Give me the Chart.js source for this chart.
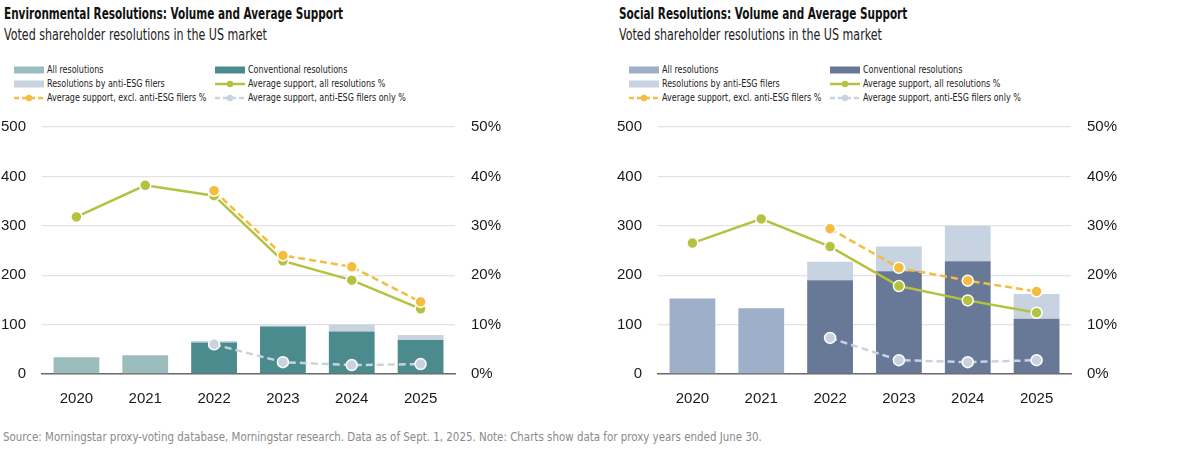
<!DOCTYPE html>
<html>
<head>
<meta charset="utf-8">
<script src="https://cdn.jsdelivr.net/npm/chart.js@4/dist/chart.umd.min.js"></script>
<style>
  html, body { margin: 0; padding: 0; background: #ffffff; }
  body { width: 1201px; height: 449px; position: relative; overflow: hidden;
         font-family: "DejaVu Sans Condensed", "DejaVu Sans", sans-serif; color: #1a1a1a; }
  .sx { display: inline-block; transform-origin: 0 50%; white-space: nowrap; }
  .title { position: absolute; top: 4px; font-weight: bold; font-size: 15px; line-height: 20px; white-space: nowrap; color: #111; }
  .title .sx { transform: scaleX(0.776); }
  .subtitle { position: absolute; top: 25px; font-size: 15.5px; line-height: 20px; white-space: nowrap; color: #222; }
  .subtitle .sx { transform: scaleX(0.797); }
  .leg { position: absolute; font-size: 11px; line-height: 14px; white-space: nowrap; color: #222; display: flex; align-items: center; }
  .leg svg { margin-right: 3px; flex: none; }
  .leg .sx { transform: scaleX(0.81); }
  canvas { position: absolute; }
  .source { position: absolute; left: 3px; top: 429px; font-size: 12px; line-height: 16px; color: #8a8a8a; white-space: nowrap; }
  .source .sx { transform: scaleX(0.953); }
</style>
</head>
<body>
<div class="title" style="left:4px"><span class="sx">Environmental Resolutions: Volume and Average Support</span></div>
<div class="subtitle" style="left:4px"><span class="sx">Voted shareholder resolutions in the US market</span></div>
<div id="legL"></div>
<div style="position:absolute;left:0;top:110px;width:520px;height:310px"><canvas id="envChart"></canvas></div>

<div class="title" style="left:619px"><span class="sx">Social Resolutions: Volume and Average Support</span></div>
<div class="subtitle" style="left:619px"><span class="sx">Voted shareholder resolutions in the US market</span></div>
<div id="legR"></div>
<div style="position:absolute;left:616px;top:110px;width:520px;height:310px"><canvas id="socChart"></canvas></div>

<div class="source"><span class="sx">Source: Morningstar proxy-voting database, Morningstar research. Data as of Sept. 1, 2025. Note: Charts show data for proxy years ended June 30.</span></div>

<script>
// ---- Data ----
const years = ['2020', '2021', '2022', '2023', '2024', '2025'];

const envAll          = [34, 38, null, null, null, null];
const envConventional = [null, null, 64, 96, 86, 69];
const envAntiESG      = [null, null, 3, 2, 14, 10];
const envSupportAll   = [31.8, 38.2, 36.1, 22.9, 19.0, 13.2];
const envSupportExcl  = [null, null, 37.1, 24.0, 21.7, 14.6];
const envSupportAnti  = [null, null, 6.0, 2.4, 1.8, 2.0];

const socAll          = [153, 133, null, null, null, null];
const socConventional = [null, null, 190, 208, 228, 112];
const socAntiESG      = [null, null, 37, 50, 72, 50];
const socSupportAll   = [26.5, 31.4, 25.8, 17.8, 14.9, 12.4];
const socSupportExcl  = [null, null, 29.4, 21.5, 18.9, 16.7];
const socSupportAnti  = [null, null, 7.3, 2.8, 2.4, 2.8];

const countTicks = [0, 100, 200, 300, 400, 500];
const pctTicks = [0, 10, 20, 30, 40, 50];

const legendLabels = [
  'All resolutions', 'Conventional resolutions',
  'Resolutions by anti-ESG filers', 'Average support, all resolutions %',
  'Average support, excl. anti-ESG filers %', 'Average support, anti-ESG filers only %'
];

// ---- Styles ----
const GREEN = '#b5c23f';
const YELLOW = '#f4bd40';
const PALE = '#c9d3e0';
const FONT = '"Liberation Sans", "DejaVu Sans Condensed", sans-serif';

const palettes = {
  env: { all: '#9bbdbd', conv: '#4b8b8e', anti: '#c8d3e0' },
  soc: { all: '#9eb0c9', conv: '#687897', anti: '#c8d3e2' }
};

function swatch(kind, color) {
  if (kind === 'bar') {
    return `<svg width="30" height="10"><rect x="0" y="1.5" width="30" height="7" fill="${color}"/></svg>`;
  }
  const dash = kind === 'dash' ? 'stroke-dasharray="5 3"' : '';
  return `<svg width="30" height="10"><line x1="0" y1="5" x2="30" y2="5" stroke="${color}" stroke-width="2.5" ${dash}/><circle cx="15" cy="5" r="3.2" fill="${color}"/></svg>`;
}

function buildLegend(id, x0, pal) {
  const items = [
    ['bar', pal.all], ['bar', pal.conv],
    ['bar', pal.anti], ['line', GREEN],
    ['dash', YELLOW], ['dash', PALE]
  ];
  const rowsY = [62.5, 76.5, 91];
  let html = '';
  items.forEach((it, i) => {
    const col = i % 2, row = Math.floor(i / 2);
    const left = x0 + col * 201;
    html += `<div class="leg" style="left:${left}px;top:${rowsY[row]}px">${swatch(it[0], it[1])}<span class="sx">${legendLabels[i]}</span></div>`;
  });
  document.getElementById(id).innerHTML = html;
}
buildLegend('legL', 14, palettes.env);
buildLegend('legR', 629, palettes.soc);

function noPad(s) { s.paddingTop = 0; s.paddingBottom = 0; s.paddingLeft = 0; s.paddingRight = 0; }

function makeChart(canvasId, pal, all, conv, anti, supAll, supExcl, supAnti) {
  const pt = (c) => ({
    pointRadius: 5.5, pointBackgroundColor: c, pointBorderColor: '#ffffff',
    pointBorderWidth: 1.5, pointHoverRadius: 5.5
  });
  return new Chart(document.getElementById(canvasId), {
    data: {
      labels: years,
      datasets: [
        { type: 'line', label: legendLabels[4], data: supExcl, yAxisID: 'y1', borderColor: YELLOW,
          borderWidth: 2.5, borderDash: [7, 4], order: 1, ...pt(YELLOW) },
        { type: 'line', label: legendLabels[3], data: supAll, yAxisID: 'y1', borderColor: GREEN,
          borderWidth: 2.5, order: 2, ...pt(GREEN) },
        { type: 'line', label: legendLabels[5], data: supAnti, yAxisID: 'y1', borderColor: PALE,
          borderWidth: 2.5, borderDash: [7, 4], order: 3, ...pt(PALE) },
        { type: 'bar', label: legendLabels[0], data: all, yAxisID: 'y', backgroundColor: pal.all, order: 10, stack: 's' },
        { type: 'bar', label: legendLabels[1], data: conv, yAxisID: 'y', backgroundColor: pal.conv, order: 10, stack: 's' },
        { type: 'bar', label: legendLabels[2], data: anti, yAxisID: 'y', backgroundColor: pal.anti, order: 10, stack: 's' }
      ]
    },
    options: {
      responsive: true,
      maintainAspectRatio: false,
      animation: false,
      events: [],
      datasets: { bar: { categoryPercentage: 1, barPercentage: 0.665 } },
      layout: { padding: { top: 17, left: 0, right: 0, bottom: 0 } },
      plugins: { legend: { display: false }, tooltip: { enabled: false } },
      scales: {
        x: {
          stacked: true,
          grid: { display: false, drawTicks: false },
          border: { display: true, color: '#6a6a6a', width: 1.5 },
          ticks: { color: '#1a1a1a', font: { family: FONT, size: 15 }, padding: 16 },
          afterFit: (s) => { s.height = 46; noPad(s); }
        },
        y: {
          stacked: true,
          position: 'left',
          min: countTicks[0], max: countTicks[countTicks.length - 1],
          afterBuildTicks: (s) => { s.ticks = countTicks.map(v => ({ value: v })); },
          grid: { color: '#e3e3e3', lineWidth: 1.3, drawTicks: false },
          border: { display: false },
          ticks: { color: '#1a1a1a', font: { family: FONT, size: 15 }, padding: 16 },
          afterFit: (s) => { s.width = 42; noPad(s); }
        },
        y1: {
          position: 'right',
          min: pctTicks[0], max: pctTicks[pctTicks.length - 1],
          afterBuildTicks: (s) => { s.ticks = pctTicks.map(v => ({ value: v })); },
          grid: { display: false, drawTicks: false },
          border: { display: false },
          ticks: { color: '#1a1a1a', font: { family: FONT, size: 15 }, padding: 16,
                   callback: (v) => v + '%' },
          afterFit: (s) => { s.width = 65; noPad(s); }
        }
      }
    }
  });
}

makeChart('envChart', palettes.env, envAll, envConventional, envAntiESG, envSupportAll, envSupportExcl, envSupportAnti);
makeChart('socChart', palettes.soc, socAll, socConventional, socAntiESG, socSupportAll, socSupportExcl, socSupportAnti);
</script>
</body>
</html>
